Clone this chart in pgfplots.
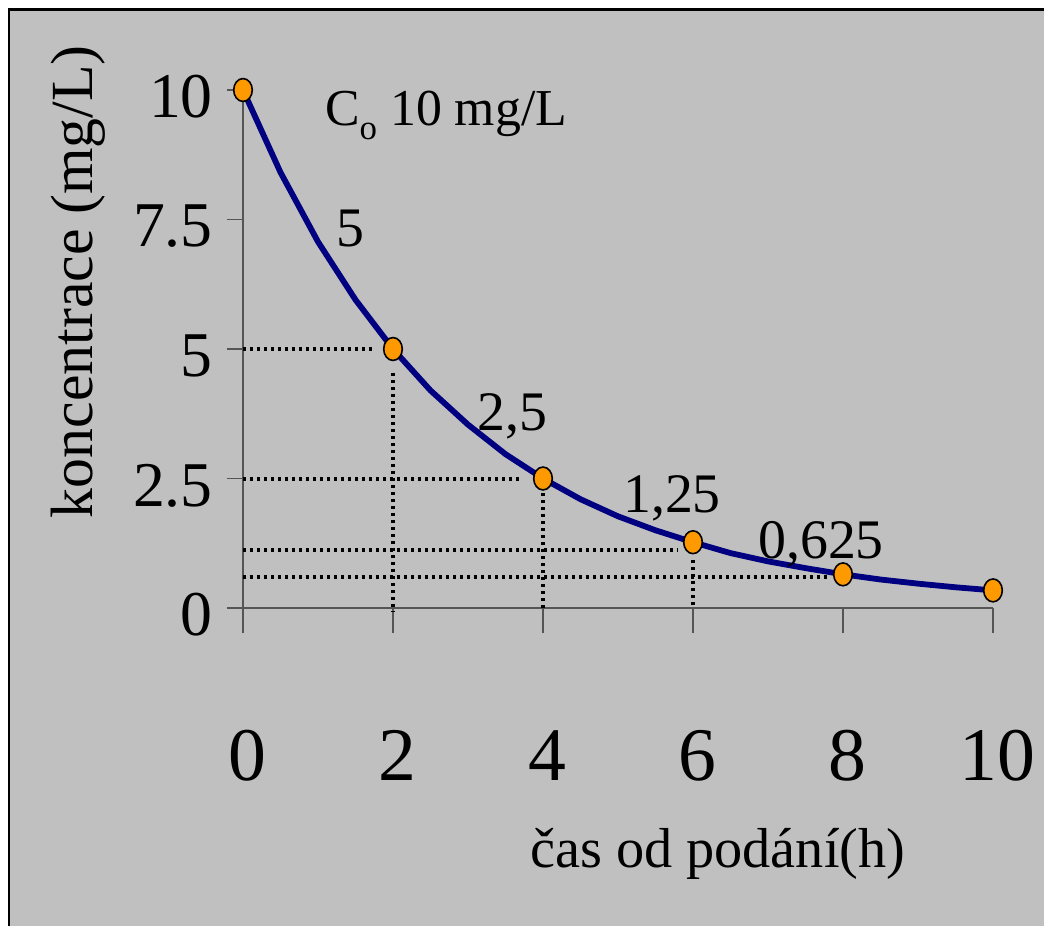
\documentclass[border=0pt]{standalone}
\usepackage{fontspec}
\setmainfont{Liberation Serif}
\usepackage{pgfplots}
\pgfplotsset{compat=1.18}
\definecolor{bggray}{HTML}{C0C0C0}
\definecolor{navy}{HTML}{000080}
\definecolor{dotorange}{HTML}{FF9900}
\definecolor{axgray}{HTML}{555555}
\begin{document}
\begin{tikzpicture}
\path[use as bounding box] (-243bp,-318bp) rectangle (801bp,608bp);
\fill[white] (-243bp,-318bp) rectangle (801bp,608bp);
\fill[bggray] (-234bp,-318bp) rectangle (801bp,598.5bp);
\draw[black, line width=2.5bp] (-234bp,-318bp) -- (-234bp,598.5bp) -- (801bp,598.5bp);
\begin{axis}[
  at={(0,0)}, anchor=origin,
  scale only axis,
  width=750bp, height=518bp,
  xmin=0, xmax=10, ymin=0, ymax=10,
  clip=false,
  axis lines=left,
  axis line style={-, draw=axgray, line width=1.3bp},
  tick align=outside,
  major tick length=16bp,
  tick style={draw=axgray, line width=1.3bp},
  xtick={0,2,4,6,8,10},
  xticklabels={0,2,4,6,8,10},
  xtick style={draw=none},
  xticklabel style={font=\fontsize{76}{76}\selectfont, anchor=base, inner sep=0pt, yshift=-156bp, xshift=4bp},
  ytick={0,2.5,5,7.5,10},
  yticklabels={0,2.5,5,7.5,10},
  yticklabel style={font=\fontsize{64}{64}\selectfont, anchor=east, inner sep=0pt, xshift=-14bp, yshift=-7bp},
  guide/.style={black, line width=3.2bp, line cap=butt, dash pattern=on 3bp off 4bp, mark=none},
]
% x ticks drawn downward
\addplot[ycomb, draw=axgray, line width=1.3bp, mark=none] coordinates {(0,-0.48) (2,-0.48) (4,-0.48) (6,-0.48) (8,-0.48) (10,-0.48)};
% dotted guides
\addplot[guide] coordinates {(0,5) (1.75,5)};
\addplot[guide] coordinates {(0,2.49) (3.73,2.49)};
\addplot[guide] coordinates {(0,1.12) (5.8,1.12)};
\addplot[guide] coordinates {(0,0.6) (7.8,0.6)};
\addplot[guide] coordinates {(2,4.54) (2,-0.08)};
\addplot[guide] coordinates {(4,2.22) (4,-0.05)};
\addplot[guide] coordinates {(6,0.93) (6,0)};
% curve
\addplot[navy, line width=5.8bp, line join=round, mark=none] coordinates {
(0,10) (0.5,8.41) (1,7.07) (1.5,5.95) (2,5) (2.5,4.2) (3,3.54) (3.5,2.97) (4,2.5)
(4.5,2.1) (5,1.77) (5.5,1.5) (6,1.27) (6.5,1.06) (7,0.9) (7.5,0.77) (8,0.65)
(8.5,0.55) (9,0.47) (9.5,0.4) (10,0.34)};
% markers
\addplot[only marks, mark=*, mark size=9.3bp, mark options={fill=dotorange, draw=black, line width=1.6bp, yscale=1.23}] coordinates {
(0,10) (2,5) (4,2.5) (6,1.27) (8,0.65) (10,0.34)};
% labels
\node[anchor=base, rotate=90, font=\fontsize{60}{60}\selectfont] at (axis cs:-2.013,6.3) {koncentrace (mg/L)};
\node[anchor=base, font=\fontsize{56.5}{56.5}\selectfont] at (axis cs:6.33,-5.0) {čas od podání(h)};
\node[anchor=base west, font=\fontsize{52}{52}\selectfont, inner sep=0pt] at (axis cs:1.093,9.32) {C\raisebox{-0.28em}{\fontsize{35}{35}\selectfont o} 10 mg/L};
\node[anchor=base, font=\fontsize{56}{56}\selectfont, inner sep=0pt] at (axis cs:1.427,6.97) {5};
\node[anchor=base, font=\fontsize{56}{56}\selectfont, inner sep=0pt] at (axis cs:3.587,3.436) {2,5};
\node[anchor=base, font=\fontsize{56}{56}\selectfont, inner sep=0pt] at (axis cs:5.72,1.853) {1,25};
\node[anchor=base, font=\fontsize{56}{56}\selectfont, inner sep=0pt] at (axis cs:7.707,0.965) {0,625};
\end{axis}
\end{tikzpicture}
\end{document}
